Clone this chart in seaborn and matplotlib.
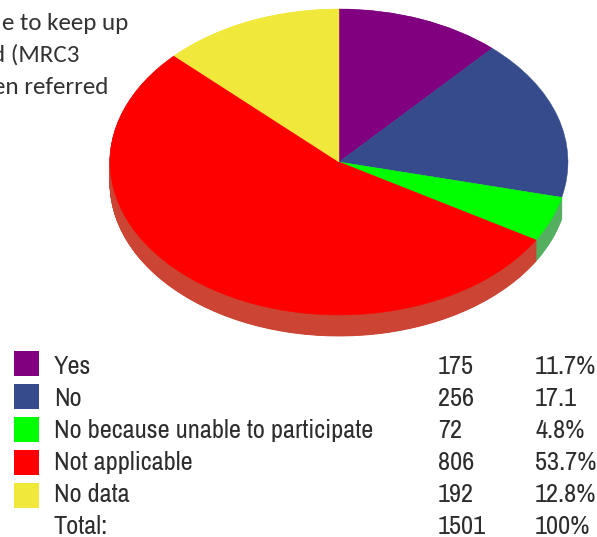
import numpy as np
import matplotlib
matplotlib.use("Agg")
import matplotlib.pyplot as plt
from matplotlib.patches import Rectangle
import seaborn as sns

categories = ["Yes", "No", "No because unable to participate", "Not applicable", "No data"]
counts = [175, 256, 72, 806, 192]
percent_labels = ["11.7%", "17.1", "4.8%", "53.7%", "12.8%"]
total_count = "1501"
total_percent = "100%"
top_colors = ["#800080", "#364B8B", "#00FF00", "#FF0000", "#F0E83A"]
side_colors = ["#800080", "#FFFFFF", "#55AF60", "#CC4433", "#F0E83A"]
caption_lines = ["e to keep up", "d (MRC3", "en referred"]

sns.set_theme(style="white")
W, H = 597, 537
fig = plt.figure(figsize=(W / 100, H / 100), dpi=100, facecolor="white")

# Elliptical pie: the axes box is the ellipse, the rim is a stack of offset pies
cx, cy, rx, ry, depth = 339, 162, 229, 153, 21
pie_ax = fig.add_axes([(cx - rx) / W, 1 - (cy + ry) / H, 2 * rx / W, 2 * ry / H])


def draw_pie(colors, offset, width):
    wedges, _ = pie_ax.pie(counts, colors=sns.color_palette(colors), startangle=90,
                           counterclock=False, center=(0, -offset))
    for wedge in wedges:
        wedge.set_clip_on(False)
        wedge.set_edgecolor(wedge.get_facecolor())
        wedge.set_linewidth(width)


for d in np.linspace(depth / ry, 0, 43)[:-1]:
    draw_pie(side_colors, d, 0.6)
draw_pie(top_colors, 0, 0.3)
pie_ax.set_aspect("auto")
pie_ax.set_xlim(-1, 1)
pie_ax.set_ylim(-1, 1)
pie_ax.axis("off")

# Overlay in pixel coordinates for the caption and the legend table
ax = fig.add_axes([0, 0, 1, 1], zorder=5)
ax.set_xlim(0, W)
ax.set_ylim(H, 0)
ax.axis("off")
ax.patch.set_alpha(0)

caption_font = dict(family=["Carlito", "Lato"], fontsize=18, color="#333333", va="center")
for line, x, y in zip(caption_lines, [1.5, -7.5, -7], [23, 55, 87]):
    ax.text(x, y, line, ha="left", **caption_font)

table_font = dict(family=["Archivo Narrow", "Roboto Condensed"], fontsize=19,
                  color="#2d2d2d", va="center")
swatch_top = [351, 384, 417, 450, 483]
text_y = [367, 399, 431, 463, 495, 527]
for top, y, name, n, pct, col in zip(swatch_top, text_y, categories, counts, percent_labels, top_colors):
    ax.add_patch(Rectangle((14, top), 25, 25, facecolor=col, edgecolor="none"))
    ax.text(54, y, name, **table_font)
    ax.text(438, y, str(n), **table_font)
    ax.text(535, y, pct, **table_font)
ax.text(54, text_y[5], "Total:", **table_font)
ax.text(438, text_y[5], total_count, **table_font)
ax.text(535, text_y[5], total_percent, **table_font)

fig.savefig("out.png", dpi=100)
